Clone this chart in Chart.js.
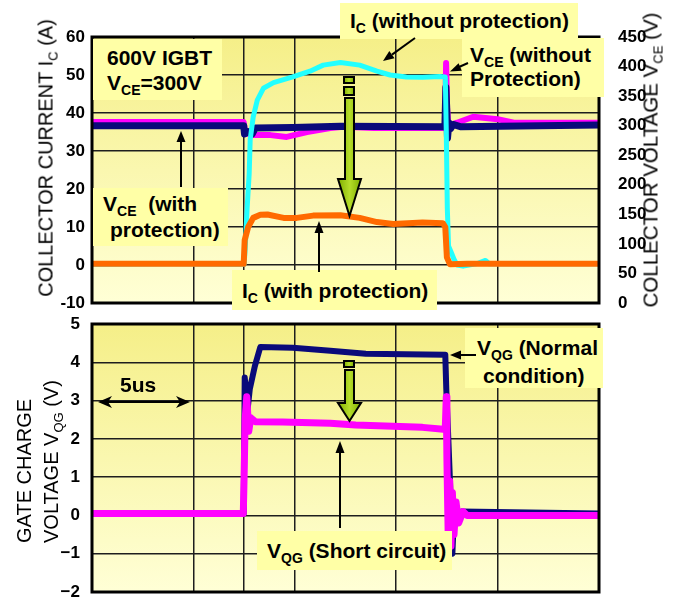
<!DOCTYPE html>
<html>
<head>
<meta charset="utf-8">
<script src="https://cdn.jsdelivr.net/npm/chart.js@4.4.0/dist/chart.umd.min.js"></script>
<style>
  body { margin: 0; background: #fff; }
  #wrap { position: relative; width: 681px; height: 597px; overflow: hidden; font-family: "Liberation Sans", Arial, sans-serif; color: #000; }
  #wrap canvas { position: absolute; left: 0; }
  .box { position: absolute; background: #ffffa6; font-weight: bold; font-size: 21px; line-height: 25px; white-space: nowrap; box-sizing: border-box; }
  .lbl { position: absolute; font-weight: bold; font-size: 21px; line-height: 25px; white-space: nowrap; }
  .ax { position: absolute; font-size: 20px; line-height: 20px; white-space: nowrap; transform: translate(-50%, -50%) rotate(-90deg); }
  .ax2 { position: absolute; font-size: 20px; line-height: 20px; white-space: nowrap; transform: rotate(-90deg); transform-origin: 0 0; }
  .s { font-size: 14px; position: relative; top: 5px; }
  .ax .s, .ax2 .s { font-size: 13px; top: 5px; }
  svg { position: absolute; left: 0; top: 0; }
</style>
</head>
<body>
<div id="wrap">
  <canvas id="top" width="681" height="310" style="top:0"></canvas>
  <canvas id="bot" width="681" height="287" style="top:310px"></canvas>

  <!-- axis titles -->
  <div class="ax" style="left:47px; top:158px">COLLECTOR CURRENT I<span class="s">C</span> (A)</div>
  <div class="ax" style="left:652px; top:160px; font-size:20.5px">COLLECTOR VOLTAGE V<span class="s">CE</span> (V)</div>
  <div class="ax2" style="left:14px; top:543px">GATE CHARGE</div>
  <div class="ax2" style="left:41px; top:543px">VOLTAGE V<span class="s">QG</span> (V)</div>

  <!-- annotation boxes -->
  <div class="box" style="left:93px; top:39px; width:129px; height:61px; padding:6px 0 0 14px">600V IGBT<br>V<span class="s">CE</span>=300V</div>
  <div class="box" style="left:93px; top:188px; width:135px; height:58px; padding:4px 0 0 10px; line-height:24px">V<span class="s">CE</span>&nbsp; (with<br><span style="padding-left:7px">protection)</span></div>
  <div class="box" style="left:340px; top:3px; width:238px; height:36px; padding:5px 0 0 10px">I<span class="s">C</span> (without protection)</div>
  <div class="box" style="left:462px; top:38px; width:142px; height:59px; padding:6px 0 0 8px; line-height:22px">V<span class="s">CE</span> (without<br>Protection)</div>
  <div class="box" style="left:232px; top:270px; width:205px; height:40px; padding:8px 0 0 10px">I<span class="s">C</span> (with protection)</div>
  <div class="box" style="left:465px; top:328px; width:138px; height:60px; padding:7px 0 0 12px">V<span class="s">QG</span> (Normal<br><span style="padding-left:6px">condition)</span></div>
  <div class="box" style="left:257px; top:531px; width:195px; height:39px; padding:7px 0 0 10px">V<span class="s">QG</span> (Short circuit)</div>
  <div class="lbl" style="left:120px; top:372px">5us</div>

  <!-- arrows -->
  <svg width="681" height="597">
    <defs>
      <linearGradient id="gr" x1="0" y1="0" x2="1" y2="0">
        <stop offset="0" stop-color="#7fae00"/>
        <stop offset="0.5" stop-color="#b5dc2a"/>
        <stop offset="1" stop-color="#7fae00"/>
      </linearGradient>
    </defs>
    <g stroke="#000" stroke-width="2" fill="#000">
      <line x1="181" y1="187" x2="181" y2="140"/><polygon points="181,131 176.5,142 185.5,142" stroke="none"/>
      <line x1="319" y1="272" x2="319" y2="231"/><polygon points="319,221 314.5,233 323.5,233" stroke="none"/>
      <line x1="415" y1="38" x2="392" y2="54.6"/><polygon points="383,61 394.5,58.3 389.3,51" stroke="none"/>
      <line x1="468" y1="63" x2="459" y2="67"/><polygon points="450,71.5 461.8,70.7 458.6,63.3" stroke="none"/>
      <line x1="476" y1="355" x2="459" y2="355"/><polygon points="450,355 461,350.5 461,359.5" stroke="none"/>
      <line x1="340" y1="528" x2="340" y2="451"/><polygon points="340,441 335.5,453 344.5,453" stroke="none"/>
      <line x1="108" y1="402" x2="180" y2="402"/>
      <polygon points="98,402 112,396 108,402 112,408" stroke="none"/>
      <polygon points="190,402 176,396 180,402 176,408" stroke="none"/>
    </g>
    <g stroke="#000" stroke-width="2" fill="url(#gr)">
      <rect x="344" y="77" width="10" height="6"/>
      <rect x="344" y="87" width="10" height="8"/>
      <polygon points="345,98 354,98 354,179 361,179 349.5,216 338,179 345,179"/>
      <rect x="344" y="361" width="10" height="6"/>
      <polygon points="345,370 354,370 354,403 361,403 349.5,421 338,403 345,403"/>
    </g>
  </svg>
</div>

<script>
// time in microseconds, one grid step = 2.5 us
const timeGrid = [5, 7.5, 10, 15, 20];
const icTicks = [-10, 0, 10, 20, 30, 40, 50, 60];
const vceTicks = [0, 50, 100, 150, 200, 250, 300, 350, 400, 450];
const vqgTicks = [-2, -1, 0, 1, 2, 3, 4, 5];

// top panel: collector current (A)
const icNoProt = [[0,0.2],[4,0.3],[7.5,0.2],[7.55,4],[7.65,15],[7.75,24],[7.8,33],[7.95,39],[8.15,43.4],[8.45,46.5],[8.95,48],[9.9,49.5],[10.75,51],[11.4,52.6],[12.25,53.3],[13.2,52.6],[14.05,51],[14.7,50],[15.5,49.5],[16.3,49.4],[17.15,49.6],[17.42,49.5],[17.47,35],[17.52,15],[17.58,5],[17.7,3.5],[17.85,1.5],[18,0],[18.3,-0.3],[19,0.4],[19.4,1.2],[19.6,0.3],[25,0.3]];
const icProt = [[0,0.3],[7.48,0.3],[7.53,6.6],[7.7,10],[7.95,12.4],[8.3,13.2],[8.65,13.3],[9.45,12.4],[10.1,12.4],[10.9,13],[12.25,13.1],[13.2,12.4],[14.05,11.3],[14.85,10.8],[16.3,11.2],[17.3,11],[17.42,10],[17.5,2],[17.65,0.2],[18.5,0.3],[25,0.3]];
// top panel: collector voltage (V)
const vceProt = [[0,300],[7.48,300],[7.52,286],[7.7,290],[7.9,286],[8.05,296],[9.9,297],[12.25,299],[17.4,298],[17.45,365],[17.49,330],[17.53,279],[17.6,305],[17.68,295],[17.8,302],[18.2,298],[25,301]];
const vceNoProt = [[0,306],[7.48,306],[7.55,290],[7.8,284],[8.8,284],[9.6,281],[10.6,289],[11.75,296],[12.4,298],[13.9,296],[15.5,296],[17.42,296],[17.46,406],[17.51,330],[17.57,300],[18,305],[18.8,315],[20,311],[20.8,305],[25,305]];
// bottom panel: gate charge voltage (V)
const vqgNormal = [[0,0.05],[7.48,0.05],[7.53,3.6],[7.68,2.8],[7.78,3.3],[8.03,3.9],[8.3,4.4],[9.9,4.38],[11.75,4.3],[13.5,4.22],[17.42,4.2],[17.47,3.3],[17.57,2.0],[17.67,0.65],[17.77,-1.0],[17.87,0.3],[17.97,-0.2],[18.2,0.1],[25,0.05]];
const vqgShort = [[0,0.05],[7.46,0.05],[7.5,1.0],[7.55,2.5],[7.63,3.1],[7.73,2.2],[7.83,2.55],[8.05,2.45],[9.4,2.44],[11.75,2.41],[13,2.36],[16.3,2.3],[17.32,2.25],[17.42,2.28],[17.47,3.1],[17.5,1.5],[17.54,0.2],[17.58,-1.0],[17.64,0.9],[17.7,-0.8],[17.77,0.6],[17.85,-0.5],[17.95,0.35],[18.08,-0.2],[18.3,0.1],[18.5,0],[25,0]];

const pts = (a) => a.map(([x, y]) => ({ x, y }));
const tickFont = { family: '"Liberation Sans", Arial, sans-serif', size: 17, weight: 'bold' };
const gridStyle = { color: '#1e1e1e', lineWidth: 1.5, drawTicks: false };
const setTicks = (vals) => (s) => { s.ticks = vals.map(v => ({ value: v })); };
// fixed axis width, and no extra room for half labels at the ends
const fixW = (w) => (s) => { s.width = w; s.paddingTop = 0; s.paddingBottom = 0; };

// yellow plot background + heavy frame
const frame = {
  id: 'frame',
  beforeDraw(c) {
    const { ctx, chartArea: a } = c;
    const g = ctx.createLinearGradient(0, a.top, 0, a.bottom);
    g.addColorStop(0, '#f5ef88');
    g.addColorStop(1, '#ffffd6');
    ctx.save();
    ctx.fillStyle = g;
    ctx.fillRect(a.left, a.top, a.right - a.left, a.bottom - a.top);
    ctx.restore();
  },
  afterDraw(c) {
    const { ctx, chartArea: a } = c;
    ctx.save();
    ctx.strokeStyle = '#000';
    ctx.lineWidth = 3;
    ctx.strokeRect(a.left, a.top, a.right - a.left, a.bottom - a.top);
    ctx.restore();
  }
};

const xScale = () => ({
  type: 'linear', min: 0, max: 25,
  afterBuildTicks: setTicks(timeGrid),
  ticks: { display: false },
  grid: gridStyle,
  border: { display: false },
  afterFit: (s) => { s.height = 0; s.paddingLeft = 0; s.paddingRight = 0; }
});

const line = (data, color, width, axis) => ({
  data: pts(data), yAxisID: axis, borderColor: color, borderWidth: width,
  pointRadius: 0, tension: 0, borderJoinStyle: 'round', borderCapStyle: 'round'
});

new Chart(document.getElementById('top'), {
  type: 'line',
  plugins: [frame],
  data: {
    datasets: [
      line(icProt, '#ff6a00', 6, 'y'),
      line(icNoProt, '#22ffff', 5, 'y'),
      line(vceProt, '#0a0a7a', 7, 'yR'),
      line(vceNoProt, '#ff00ff', 6, 'yR')
    ]
  },
  options: {
    responsive: false, animation: false, devicePixelRatio: 1,
    layout: { padding: { top: 37, bottom: 7, left: 0, right: 0 } },
    plugins: { legend: { display: false }, tooltip: { enabled: false } },
    scales: {
      x: xScale(),
      y: {
        position: 'left', min: -10, max: 60,
        afterBuildTicks: setTicks(icTicks),
        ticks: { color: '#000', font: tickFont, padding: 7 },
        grid: gridStyle, border: { display: false },
        afterFit: fixW(92)
      },
      yR: {
        position: 'right', min: 0, max: 450,
        afterBuildTicks: setTicks(vceTicks),
        ticks: { color: '#000', font: tickFont, padding: 11 },
        grid: { display: false }, border: { display: false },
        afterFit: fixW(82)
      }
    }
  }
});

new Chart(document.getElementById('bot'), {
  type: 'line',
  plugins: [frame],
  data: {
    datasets: [
      line(vqgShort, '#ff00ff', 7, 'y'),
      line(vqgNormal, '#0a0a7a', 6, 'y')
    ]
  },
  options: {
    responsive: false, animation: false, devicePixelRatio: 1,
    layout: { padding: { top: 14, bottom: 5, left: 0, right: 82 } },
    plugins: { legend: { display: false }, tooltip: { enabled: false } },
    scales: {
      x: xScale(),
      y: {
        position: 'left', min: -2, max: 5,
        afterBuildTicks: setTicks(vqgTicks),
        ticks: { color: '#000', font: tickFont, padding: 12, callback: (v) => v < 0 ? '\u2212' + Math.abs(v) : String(v) },
        grid: gridStyle, border: { display: false },
        afterFit: fixW(92)
      }
    }
  }
});
</script>
</body>
</html>
